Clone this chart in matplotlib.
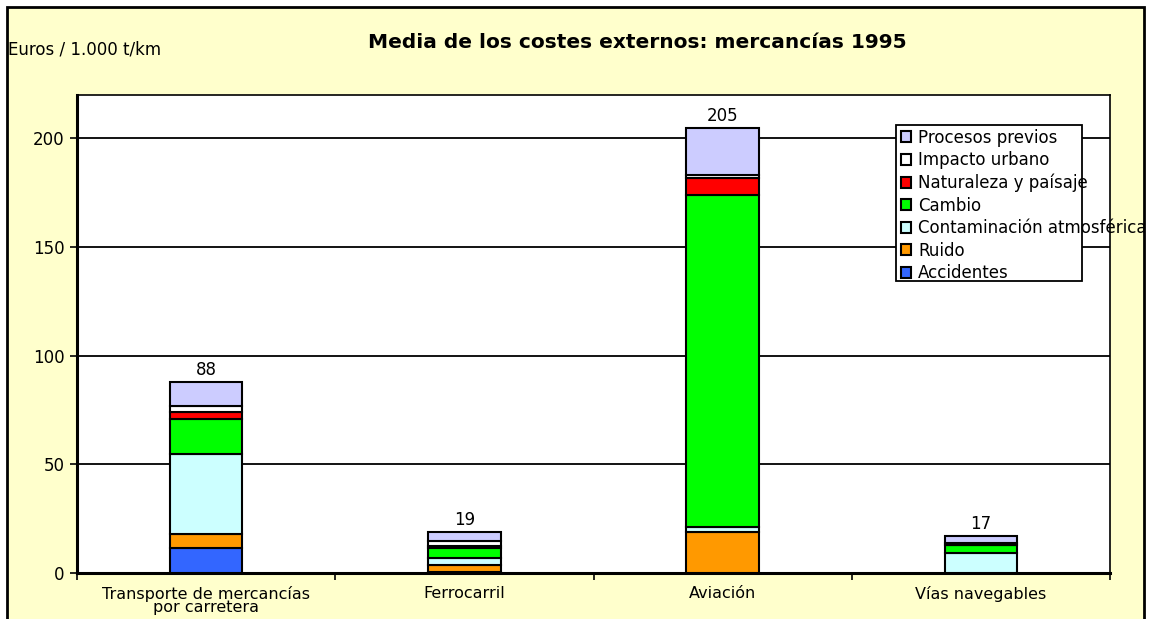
import matplotlib
matplotlib.use("Agg")
import matplotlib.pyplot as plt
from matplotlib.patches import Rectangle
import numpy as np

categories = ["Transporte de mercancías\npor carretera", "Ferrocarril", "Aviación", "Vías navegables"]
series_names = ["Accidentes", "Ruido", "Contaminación atmosférica", "Cambio",
                "Naturaleza y paísaje", "Impacto urbano", "Procesos previos"]
accidentes = [11.5, 0.5, 0.0, 0.0]
ruido = [6.5, 3.0, 19.0, 0.0]
contaminacion = [37.0, 3.5, 2.0, 9.0]
cambio = [16.0, 4.5, 153.0, 4.0]
naturaleza = [3.0, 1.0, 8.0, 0.0]
impacto = [3.0, 2.0, 1.0, 1.0]
procesos = [11.0, 4.5, 22.0, 3.0]
totals = [88, 19, 205, 17]
colors = ["#3366FF", "#FF9900", "#CCFFFF", "#00FF00", "#FF0000", "#FFFFFF", "#CCCCFF"]

W, H = 1151, 619
fig = plt.figure(figsize=(W / 100, H / 100), dpi=100)
fig.patch.set_facecolor("white")
fig.patches.append(Rectangle((7 / W, -0.02), 1137 / W, 1.02 - 7 / H,
                             transform=fig.transFigure, facecolor="#FFFFCC",
                             edgecolor="black", linewidth=2, zorder=-10))

ax = fig.add_axes([77 / W, 46 / H, (1110 - 77) / W, (573 - 95) / H])
ax.set_facecolor("white")
font = "DejaVu Sans"

x = np.arange(len(categories))
data = [accidentes, ruido, contaminacion, cambio, naturaleza, impacto, procesos]
bottom = np.zeros(len(categories))
handles = []
for name, vals, col in zip(series_names, data, colors):
    vals = np.array(vals)
    b = ax.bar(x, vals, 0.28, bottom=bottom, color=col, edgecolor="black",
               linewidth=1.5, label=name, zorder=3)
    handles.append(b)
    bottom += vals

for xi, t, top in zip(x, totals, bottom):
    ax.annotate(str(t), (xi, top), xytext=(0, 2), textcoords="offset points",
                ha="center", va="bottom", fontsize=12, family=font, zorder=4)

for yv in [50, 100, 150, 200]:
    ax.axhline(yv, color="black", linewidth=1.3, zorder=1)

ax.set_xlim(-0.5, 3.5)
ax.set_ylim(0, 220)
ax.set_yticks([0, 50, 100, 150, 200])
ax.set_yticklabels(["0", "50", "100", "150", "200"], fontsize=12, family=font)
ax.tick_params(axis="y", direction="out", length=5, width=1.2, pad=4)
ax.set_xticks(x)
ax.set_xticklabels(categories, fontsize=11.5, family=font, linespacing=0.85)
ax.tick_params(axis="x", which="major", length=0, pad=9)
ax.set_xticks([-0.5, 0.5, 1.5, 2.5, 3.5], minor=True)
ax.tick_params(axis="x", which="minor", direction="out", length=5, width=1.2)
for s in ["left", "bottom"]:
    ax.spines[s].set_linewidth(2.2)
for s in ["top", "right"]:
    ax.spines[s].set_linewidth(1.2)

# legend frame drawn separately so that long labels can overflow it
frame = Rectangle((896 / W, 1 - 281 / H), (1082 - 896) / W, (281 - 125) / H,
                  transform=fig.transFigure, facecolor="white",
                  edgecolor="black", linewidth=1.3, zorder=5, clip_on=False)
ax.add_patch(frame)
leg = ax.legend(handles[::-1], series_names[::-1], loc="upper left",
                bbox_to_anchor=(899 / W, 1 - 127 / H), bbox_transform=fig.transFigure,
                prop={"family": font, "size": 12}, frameon=False,
                borderpad=0.1, labelspacing=0.27,
                handlelength=0.6, handleheight=0.6, handletextpad=0.45, borderaxespad=0)
leg.set_zorder(6)

fig.text(8 / W, 1 - 50 / H, "Euros / 1.000 t/km", fontsize=12, family=font,
         ha="left", va="center")
fig.text(637 / W, 1 - 42 / H, "Media de los costes externos: mercancías 1995",
         fontsize=14.5, family=font, fontweight="bold", ha="center", va="center")

fig.savefig("out.png", dpi=100, facecolor=fig.get_facecolor())
